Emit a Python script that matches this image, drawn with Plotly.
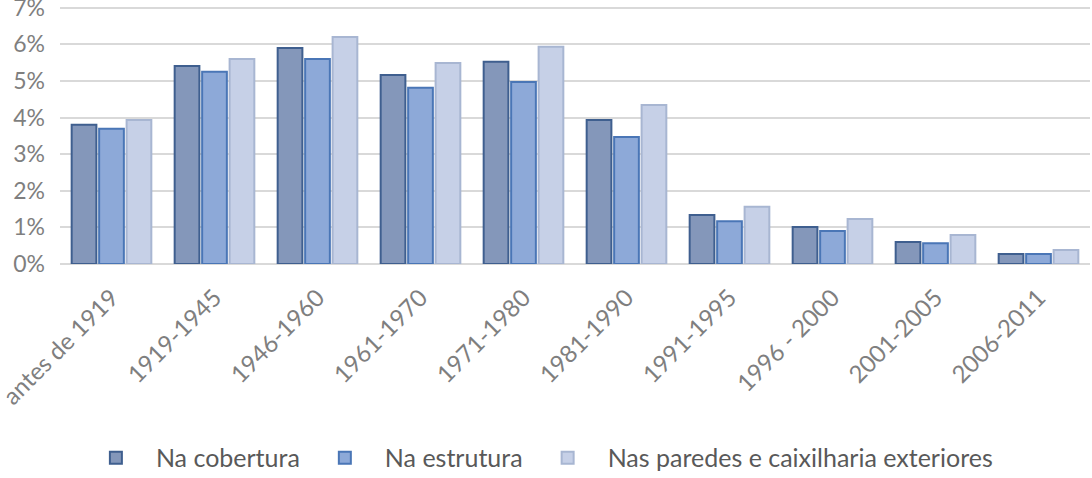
import plotly.graph_objects as go

categories = ["antes de 1919", "1919-1945", "1946-1960", "1961-1970", "1971-1980",
              "1981-1990", "1991-1995", "1996 - 2000", "2001-2005", "2006-2011"]
cobertura = [3.80, 5.41, 5.90, 5.16, 5.52, 3.93, 1.34, 1.01, 0.60, 0.27]
estrutura = [3.69, 5.25, 5.60, 4.81, 4.97, 3.47, 1.17, 0.90, 0.57, 0.27]
paredes = [3.93, 5.60, 6.20, 5.49, 5.93, 4.34, 1.56, 1.23, 0.79, 0.38]
series_names = ["Na cobertura", "Na estrutura", "Nas paredes e caixilharia exteriores"]
y_ticks = [0, 1, 2, 3, 4, 5, 6, 7]

fills = ["#8497BA", "#8DA9D8", "#C6D0E7"]
borders = ["#3F5F8F", "#4A76B6", "#A8B6D2"]

fig = go.Figure()
for name, vals, fc, bc in zip(series_names, [cobertura, estrutura, paredes], fills, borders):
    fig.add_trace(go.Bar(x=categories, y=vals, name=name,
                         marker=dict(color=fc, line=dict(color=bc, width=2))))

font = "Lato, Calibri, Carlito, sans-serif"
fig.update_layout(
    width=1092, height=478,
    margin=dict(l=60, r=2, t=4, b=214),
    paper_bgcolor="white", plot_bgcolor="white",
    barmode="group", bargap=0.2, bargroupgap=0.1,
    font=dict(family=font, size=23, color="#7F7F7F"),
    showlegend=True,
    legend=dict(orientation="h", x=0.463, xanchor="center",
                yref="container", y=0.042, yanchor="middle",
                font=dict(family=font, size=25, color="#595959"),
                itemwidth=70, traceorder="normal"),
    xaxis=dict(tickangle=-45, automargin=False, showline=False, ticks="",
               ticklabelstandoff=14, ticklabeloverflow="allow",
               tickfont=dict(family=font, size=24, color="#7F7F7F")),
    yaxis=dict(range=[0, 7.1], tickvals=y_ticks, ticktext=[f"{v}%" for v in y_ticks],
               showgrid=True, gridcolor="#D9D9D9", gridwidth=1.5,
               zeroline=True, zerolinecolor="#D9D9D9", zerolinewidth=1.5,
               automargin=False, ticks="", ticklabelstandoff=14,
               ticklabeloverflow="allow",
               tickfont=dict(family=font, size=23, color="#7F7F7F")),
)
fig.write_html("out.html")
